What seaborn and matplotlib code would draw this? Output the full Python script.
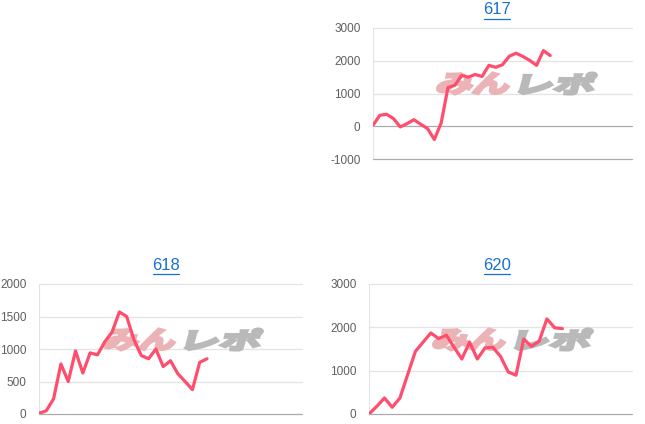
import matplotlib
matplotlib.use("Agg")
import matplotlib.pyplot as plt
import seaborn as sns
import pandas as pd
from matplotlib.lines import Line2D
from matplotlib.textpath import TextPath
from matplotlib.patches import PathPatch
from matplotlib.font_manager import FontProperties
from matplotlib.transforms import Affine2D

# chart values
titles = ["617", "618", "620"]
values_617 = [30, 335, 365, 235, -20, 80, 200, 60, -70, -405, 100, 1180, 1250, 1550,
              1500, 1580, 1520, 1860, 1800, 1880, 2140, 2230, 2130, 2010, 1860, 2310, 2160]
values_618 = [10, 50, 235, 770, 500, 970, 630, 940, 910, 1110, 1260, 1570, 1500, 1140,
              900, 850, 1000, 730, 820, 620, 500, 375, 795, 850]
values_620 = [0, 175, 370, 155, 370, 910, 1445, 1660, 1870, 1740, 1820, 1540, 1270, 1660,
              1270, 1525, 1540, 1330, 970, 895, 1730, 1560, 1680, 2195, 1990, 1970]
yticks_617 = [-1000, 0, 1000, 2000, 3000]
yticks_618 = [0, 500, 1000, 1500, 2000]
yticks_620 = [0, 1000, 2000, 3000]
x_slots = [38, 36, 34]

LINE = "#ff4d6d"
GRID = "#e3e3e3"
BASE = "#ababab"
TICK = "#5f5f5f"
LINK = "#1a6fd1"
H = 424

sns.set_style("white")
plt.rcParams['font.family'] = ['Liberation Sans', 'DejaVu Sans']

wm_font = FontProperties(family='Noto Sans CJK JP', weight='bold')


def watermark_part(ax, text, x0, y_top, w, h, color):
    # stretched, slanted text path placed in pixel coordinates
    path = TextPath((0, 0), text, size=10, prop=wm_font)
    ext = path.get_extents()
    skew_w = h * 0.268
    tr = (Affine2D().translate(-ext.x0, -ext.y0)
          .scale((w - skew_w) / ext.width, h / ext.height)
          .skew_deg(15, 0)
          .translate(x0, H - y_top - h))
    patch = PathPatch(path, transform=tr, facecolor=color, edgecolor=color,
                      lw=2.2, joinstyle='miter', zorder=2, clip_on=False)
    ax.add_artist(patch)


def draw_panel(fig, box, title, vals, yticks, slots, title_xy):
    left, top, width, bottom = box
    ax = fig.add_axes([left / 645, 1 - bottom / H, width / 645, (bottom - top) / H])
    df = pd.DataFrame({'x': range(len(vals)), 'y': vals})
    for t in yticks:
        dark = t == 0 or t == yticks[0]
        ax.axhline(t, color=BASE if dark else GRID, lw=0.9, zorder=1, clip_on=False)
    ax.axvline(0, color=GRID, lw=0.8, zorder=1)
    # watermark
    watermark_part(ax, "みん", left + 63, top + 45, 76, 21, "#ebb3b5")
    watermark_part(ax, "レポ", left + 146, top + 45, 78, 21, "#b9b9b9")
    sns.lineplot(data=df, x='x', y='y', ax=ax, color=LINE, lw=2.3, zorder=3)
    ax.set_xlim(0, slots)
    ax.set_ylim(yticks[0], yticks[-1])
    ax.set_yticks(yticks)
    ax.set_yticklabels([str(t) for t in yticks], color=TICK, fontsize=8.5)
    ax.set_xticks([])
    ax.tick_params(axis='y', length=0, pad=9)
    ax.set_xlabel('')
    ax.set_ylabel('')
    for s in ax.spines.values():
        s.set_visible(False)
    # title link with underline
    tx, ty = title_xy
    fig.text(tx / 645, 1 - ty / H, title, color=LINK, fontsize=12, ha='center', va='center')
    fig.add_artist(Line2D([(tx - 13) / 645, (tx + 13) / 645],
                          [1 - (ty + 9) / H] * 2, color=LINK, lw=0.9))
    return ax


fig = plt.figure(figsize=(6.45, 4.24), dpi=100)

draw_panel(fig, (373, 28, 259, 159), titles[0], values_617, yticks_617, x_slots[0], (497, 10))
draw_panel(fig, (39, 284, 263, 414), titles[1], values_618, yticks_618, x_slots[1], (166, 265))
draw_panel(fig, (369, 284, 263, 414), titles[2], values_620, yticks_620, x_slots[2], (497, 265))

fig.savefig("out.png", dpi=100)
